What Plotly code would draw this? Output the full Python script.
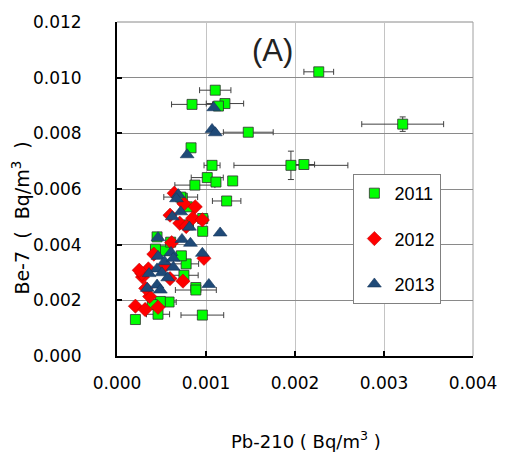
import plotly.graph_objects as go

# ---- data (Bq/m3) ----
pb_2011 = [2.267, 1.104, 0.843, 1.213, 1.14, 1.475, 0.832, 1.068, 1.954, 2.10,
           1.014, 0.875, 1.112, 1.30, 1.232, 3.21, 0.959, 0.207, 0.461, 0.585,
           0.487, 0.396, 0.886, 0.886, 0.777, 0.752, 0.963, 0.963, 0.803, 0.45,
           0.534, 0.723, 0.79, 0.734, 0.603, 0.432, 0.716]
be_2011 = [10.21, 9.55, 9.04, 9.07, 8.98, 8.04, 7.48, 6.85, 6.85, 6.88,
           6.41, 6.14, 6.25, 6.29, 5.57, 8.33, 1.47, 1.31, 1.50, 1.94,
           1.96, 1.85, 2.46, 2.37, 3.31, 2.90, 4.48, 4.94, 4.71, 4.28,
           3.78, 3.60, 5.36, 5.67, 4.09, 3.84, 5.71]
pb_err_2011 = [0.167, 0.176, 0.23, 0.21, 0.05, 0.28, 0.04, 0.09, 0.64, 0.12,
               0.18, 0.225, 0.05, 0.04, 0.16, 0.46, 0.24, 0.02, 0.13, 0.08,
               0.05, 0.05, 0.05, 0.23, 0.14, 0.16, 0.05, 0.06, 0.05, 0.05,
               0.05, 0.05, 0.05, 0.05, 0.05, 0.05, 0.19]
be_err_2011 = [0.05, 0.05, 0.05, 0.05, 0.05, 0.05, 0.05, 0.05, 0.51, 0.05,
               0.05, 0.05, 0.05, 0.05, 0.05, 0.26, 0.05, 0.05, 0.05, 0.05,
               0.05, 0.05, 0.05, 0.05, 0.05, 0.05, 0.05, 0.05, 0.05, 0.05,
               0.05, 0.05, 0.05, 0.05, 0.05, 0.05, 0.05]

pb_2012 = [0.207, 0.316, 0.461, 0.367, 0.323, 0.741, 0.287, 0.28, 0.352, 0.414,
           0.614, 0.977, 0.879, 0.85, 0.959, 0.643, 0.752, 0.596, 0.705, 0.777,
           0.25, 0.596, 0.541]
be_2012 = [1.79, 1.67, 1.75, 2.14, 2.43, 2.69, 2.84, 2.96, 3.13, 3.66,
           4.07, 3.51, 5.36, 4.95, 4.89, 5.85, 5.47, 5.06, 4.77, 4.65,
           3.08, 2.78, 3.25]

pb_2013 = [1.087, 1.068, 1.104, 0.788, 0.687, 0.668, 0.716, 0.621, 0.814, 1.159,
           0.461, 0.73, 0.825, 0.959, 0.607, 0.461, 0.534, 0.632, 0.45, 0.36,
           0.505, 0.57, 0.632, 0.341, 0.45, 0.487, 1.032]
be_2013 = [8.92, 8.14, 8.02, 7.23, 5.80, 5.65, 5.18, 5.00, 4.63, 4.42,
           4.25, 4.19, 4.05, 3.69, 3.72, 3.58, 3.39, 3.51, 3.13, 2.96,
           2.99, 2.81, 3.19, 2.43, 2.55, 2.37, 2.57]

x_ticks = [0.000, 0.001, 0.002, 0.003, 0.004]
y_ticks = [0.000, 0.002, 0.004, 0.006, 0.008, 0.010, 0.012]

s = 1e-3
sc = lambda a: [v * s for v in a]

ERR = dict(type="data", color="#404040", thickness=1, width=3)
MLINE = dict(color="#303030", width=0.8)

fig = go.Figure()
fig.add_trace(go.Scatter(
    x=sc(pb_2011), y=sc(be_2011), mode="markers", name="2011", legendgroup="a",
    marker=dict(symbol="square", size=10, color="#00ff00", line=MLINE),
    error_x=dict(array=sc(pb_err_2011), **ERR),
    error_y=dict(array=sc(be_err_2011), **ERR),
))
fig.add_trace(go.Scatter(
    x=sc(pb_2012), y=sc(be_2012), mode="markers", name="2012", legendgroup="b",
    marker=dict(symbol="diamond", size=11, color="#ff0000", line=dict(color="#b00000", width=0.5)),
))
fig.add_trace(go.Scatter(
    x=sc(pb_2013), y=sc(be_2013), mode="markers", name="2013", legendgroup="c",
    marker=dict(symbol="triangle-up", size=12, color="#1f4a78", line=dict(color="#16365a", width=0.6)),
))

TICKFONT = dict(family="DejaVu Sans", size=17, color="black")

fig.update_layout(
    width=509, height=457,
    margin=dict(l=117, r=25, t=14, b=101),
    paper_bgcolor="white", plot_bgcolor="white",
    showlegend=True,
    legend=dict(x=0.664, y=0.545, xanchor="left", yanchor="top",
                bordercolor="#808080", borderwidth=1, bgcolor="white",
                font=dict(family="Liberation Sans", size=18, color="black"),
                tracegroupgap=19, itemwidth=30),
    xaxis=dict(range=[0, 0.004], tickvals=x_ticks, ticktext=[f"{v:.3f}" for v in x_ticks],
               showgrid=True, gridcolor="#c4c4c4", gridwidth=1, zeroline=False,
               showline=True, linecolor="black", linewidth=2,
               ticks="inside", ticklen=5, tickwidth=2, tickcolor="black",
               tickfont=TICKFONT, ticklabelstandoff=11),
    yaxis=dict(range=[0, 0.012], tickvals=y_ticks, ticktext=[f"{v:.3f}" for v in y_ticks],
               showgrid=True, gridcolor="#8a8a8a", gridwidth=1, zeroline=False,
               showline=True, linecolor="black", linewidth=2,
               ticks="inside", ticklen=5, tickwidth=2, tickcolor="black",
               tickfont=TICKFONT, ticklabelstandoff=30),
    shapes=[
        dict(type="line", xref="paper", yref="paper", x0=0, x1=1, y0=1, y1=1,
             line=dict(color="#8a8a8a", width=1), layer="below"),
        dict(type="line", xref="paper", yref="paper", x0=1, x1=1, y0=0, y1=1,
             line=dict(color="#a0a0a0", width=1), layer="below"),
    ],
    annotations=[
        dict(text="(A)", xref="paper", yref="paper", x=0.436, y=0.915,
             xanchor="center", yanchor="middle", showarrow=False,
             font=dict(family="Liberation Sans", size=31, color="#222222")),
        dict(text="Pb-210 ( Bq/m<sup>3</sup> )", xref="paper", yref="paper",
             x=0.531, y=-0.2515, xanchor="center", yanchor="middle", showarrow=False,
             font=dict(family="DejaVu Sans", size=18, color="black")),
        dict(text="Be-7  (  Bq/m<sup>3</sup>  )", xref="paper", yref="paper",
             x=-0.27, y=0.414, xanchor="center", yanchor="middle", showarrow=False,
             textangle=-90,
             font=dict(family="DejaVu Sans", size=19, color="black")),
    ],
)

fig.write_html("out.html", config={"displayModeBar": False},
               post_script="document.body.style.margin='0';document.documentElement.style.overflow='hidden';document.body.style.overflow='hidden';")
